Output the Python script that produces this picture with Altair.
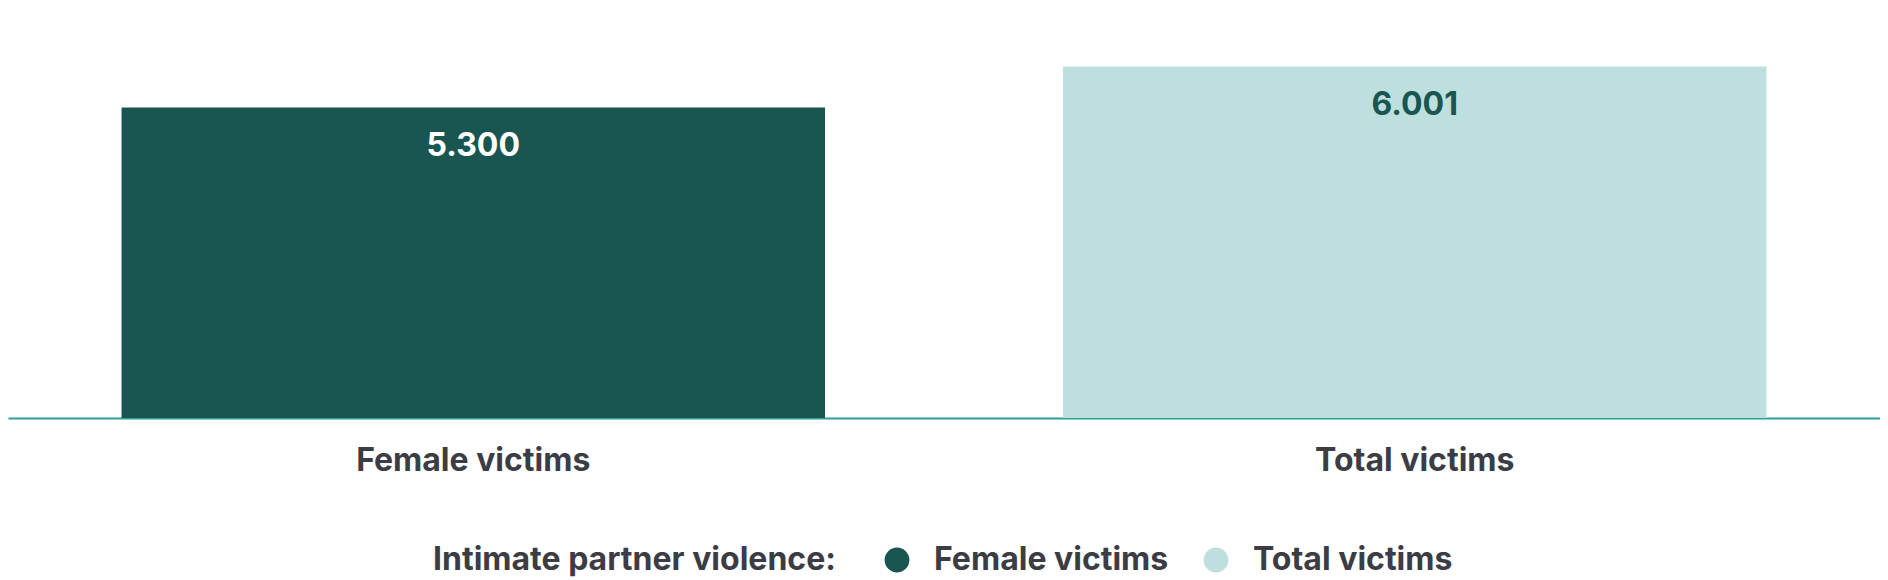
import altair as alt
import pandas as pd

categories = ["Female victims", "Total victims"]
values = [5300, 6001]
value_labels = ["5.300", "6.001"]
bar_colors = ["#1a5651", "#bde0df"]

df = pd.DataFrame({"category": categories, "value": values, "label": value_labels})

FONT = "Inter"
TEXT = "#3c3c45"
WEIGHT = 700
FS = 32

x_enc = alt.X(
    "category:N",
    sort=categories,
    title=None,
    scale=alt.Scale(paddingInner=0.2528, paddingOuter=0.1206),
    axis=alt.Axis(
        labelAngle=0,
        labelFont=FONT,
        labelFontSize=FS,
        labelFontWeight=WEIGHT,
        labelColor=TEXT,
        labelBaseline="alphabetic",
        labelPadding=52,
        labelLimit=0,
        ticks=False,
        tickSize=0,
        domainColor="#2f9e96",
        domainWidth=2,
        grid=False,
    ),
)

y_enc = alt.Y("value:Q", scale=alt.Scale(domain=[0, 7000]), axis=None)

bars = alt.Chart(df).mark_bar().encode(
    x=x_enc,
    y=y_enc,
    color=alt.Color(
        "category:N",
        sort=categories,
        scale=alt.Scale(domain=categories, range=bar_colors),
        legend=alt.Legend(
            title="Intimate partner violence:",
            orient="none",
            legendX=425,
            legendY=536,
            direction="horizontal",
            titleOrient="left",
            titleFont=FONT,
            titleFontSize=FS,
            titleFontWeight=WEIGHT,
            titleColor=TEXT,
            titlePadding=45,
            titleBaseline="middle",
            titleLimit=0,
            labelFont=FONT,
            labelFontSize=FS,
            labelFontWeight=WEIGHT,
            labelColor=TEXT,
            labelOffset=21,
            labelLimit=0,
            columnPadding=31,
            symbolType="circle",
            symbolSize=616,
            symbolStrokeWidth=0,
        ),
    ),
)

texts = alt.Chart(df).mark_text(
    baseline="alphabetic", dy=48, font=FONT, fontSize=FS, fontWeight=WEIGHT
).encode(
    x=alt.X("category:N", sort=categories),
    y=alt.Y("value:Q"),
    text="label:N",
    color=alt.condition(
        alt.datum.category == "Female victims", alt.value("#ffffff"), alt.value("#1a5651")
    ),
)

chart = (
    alt.layer(bars, texts)
    .properties(
        width=1872,
        height=410,
        padding={"left": 0, "top": 0, "right": 0, "bottom": 164},
        autosize=alt.AutoSizeParams(type="none"),
        background="#ffffff",
    )
    .configure_view(stroke=None)
)

chart.save("out.html", embed_options={"renderer": "svg", "actions": False})
